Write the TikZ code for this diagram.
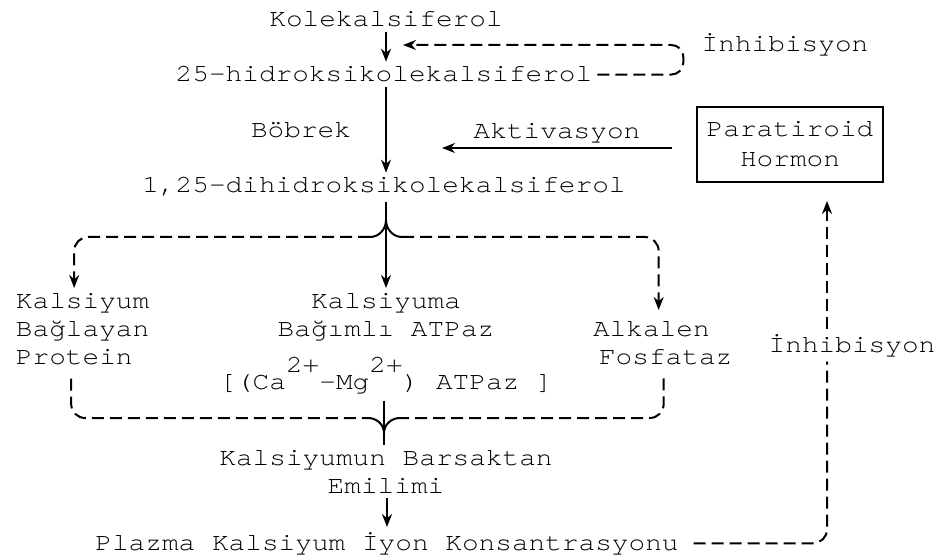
\documentclass[tikz,border=0pt]{standalone}
\usepackage{fontspec}
\setmainfont{texgyrecursor-regular.otf}[FakeStretch=1.12]
\usepackage{tikz}
\usetikzlibrary{arrows.meta, positioning, calc}

\newcommand{\ust}[1]{\raisebox{8.5pt}{#1}}

\begin{document}
\begin{tikzpicture}[>={Stealth[length=6.5pt,width=5pt]}, x=0.5pt, y=-0.5pt, line width=1pt,
    every node/.style={font=\fontsize{12.4pt}{14pt}\selectfont, inner sep=2pt},
    dsh/.style={dash pattern=on 6pt off 3pt}]
  \useasboundingbox (0,0) rectangle (945,560);

  % Main chain of metabolites
  \node[anchor=base] (kole) at (386,27) {Kolekalsiferol};
  \node[anchor=base] (hidr) at (384,82) {25-hidroksikolekalsiferol};
  \node[anchor=base] (dihid) at (384,193) {1,25-dihidroksikolekalsiferol};
  \node[anchor=base] (inhA) at (785,52) {İnhibisyon};
  \node[draw, align=center, minimum width=93pt, minimum height=37.5pt] (pth) at (790,144.5) {Paratiroid\\[1pt]Hormon};

  % Three effects
  \node[anchor=north west, align=left] (kbp) at (11,288) {Kalsiyum\\Bağlayan\\Protein};
  \node[anchor=north, align=center] (kba) at (386,288) {Kalsiyuma\\Bağımlı ATPaz\\[7pt]{[}(Ca\ust{2+}-Mg\ust{2+}) ATPaz ]};
  \node[anchor=north west, align=left] (alk) at (588,317) {Alkalen\\\hspace*{3pt}Fosfataz};

  % Result
  \node[anchor=north, align=center] (kbe) at (386,445) {Kalsiyumun Barsaktan\\Emilimi};
  \node[anchor=base] (plz) at (387,550) {Plazma Kalsiyum İyon Konsantrasyonu};
  \node[anchor=base] (inhB) at (852,352) {İnhibisyon};

  \coordinate (fork) at (386,220);
  \coordinate (forkL) at (370,237);
  \coordinate (forkR) at (402,237);
  \coordinate (join) at (384,433);
  \coordinate (joinL) at (368,418);
  \coordinate (joinR) at (400,418);
  \coordinate (fb) at (403,45);
  \coordinate (akt) at (442,148);
  \coordinate (rx) at (827,0);

  % Vertical arrows
  \draw[->] (kole.south) -- (kole.south |- hidr.north);
  \draw[->] (hidr.south -| fork) -- node[left=15pt] {Böbrek} (dihid.north -| fork);
  \draw[->] (dihid.south -| fork) -- (kba.north -| fork);
  \draw[->] (kbe.south -| plz) -- (plz.north);

  % Feedback at the top
  \draw[->, dsh, rounded corners=6pt] (hidr.east) -- ++(86,0) |- (fb);

  % Activation by the hormone
  \draw[->] ([xshift=-12pt,yshift=-1.75pt]pth.west) -- node[above] {Aktivasyon} (akt);

  % Branches to the three effects
  \draw (forkL) to[out=0, in=-90] (fork) to[out=-90, in=180] (forkR);
  \draw[->, dsh, rounded corners=7pt] (forkL) -| ([xshift=-4.25pt]kbp.north);
  \draw[->, dsh, rounded corners=7pt] (forkR) -| ([xshift=-2pt,yshift=3.5pt]alk.north);

  % Branches joining again
  \draw ([yshift=-1pt]kba.south -| join) -- (kbe.north -| join);
  \draw (joinL) to[out=0, in=90] (join) to[out=90, in=180] (joinR);
  \draw[dsh, rounded corners=7pt] ([xshift=-5.75pt,yshift=-4.5pt]kbp.south) |- (joinL);
  \draw[dsh, rounded corners=7pt] ([xshift=0.5pt,yshift=-4pt]alk.south) |- (joinR);

  % Inhibition of the hormone
  \draw[dsh, rounded corners=7pt] ([xshift=5pt]plz.east) -| (inhB.south -| rx);
  \draw[->, dsh] (inhB.north -| rx) -- ($(pth.south -| rx)+(0,18)$);
\end{tikzpicture}
\end{document}
